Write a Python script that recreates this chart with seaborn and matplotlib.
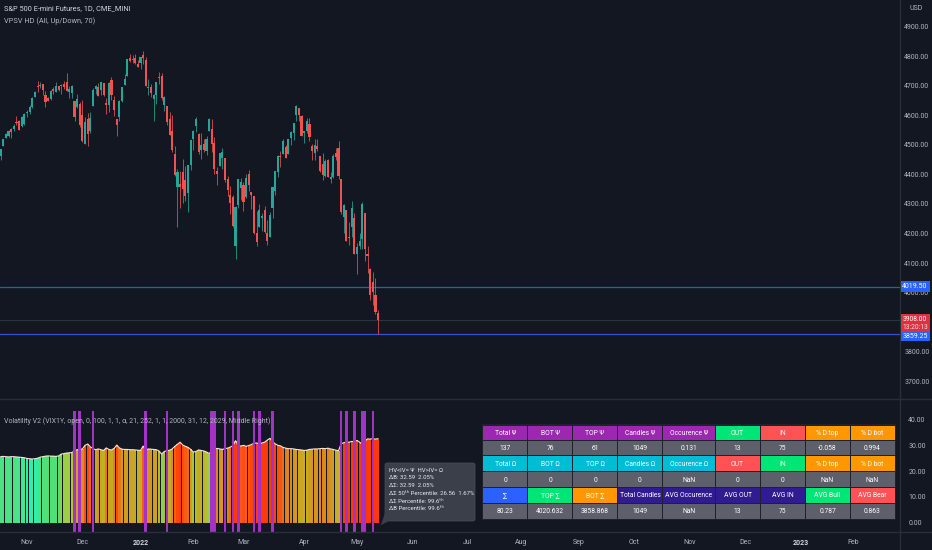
"""S&P 500 E-mini daily chart with Volatility V2 pane, TradingView dark look."""

import matplotlib
matplotlib.use("Agg")
import matplotlib.pyplot as plt
from matplotlib.colors import LinearSegmentedColormap, Normalize
from matplotlib.patches import Rectangle, Polygon, FancyBboxPatch
import numpy as np
import pandas as pd
import seaborn as sns

BG = "#131722"
TXT = "#b2b5be"
UP = "#26a69a"
DOWN = "#ef5350"
FONT = ["Roboto", "DejaVu Sans"]

# ---- price candles (ES1!, daily, Oct 18 2021 -> May 12 2022) ----
opens = [4463, 4497, 4524, 4532, 4553, 4553, 4578, 4580, 4563, 4572,
         4610, 4613, 4630, 4662, 4699, 4701, 4707, 4670, 4659, 4655, 4689, 4679, 4701, 4700, 4708, 4712, 4679, 4675, 4650, 4628, 4640,
         4602, 4504, 4589, 4548, 4631, 4690, 4697, 4687, 4710, 4642, 4637, 4719, 4652, 4587, 4594, 4650, 4703, 4733, 4795, 4788, 4795, 4775,
         4778, 4804, 4788, 4693, 4698, 4655, 4670, 4729, 4733, 4637, 4632, 4588, 4547, 4471, 4357, 4367, 4408, 4381, 4337, 4432,
         4519, 4566, 4536, 4482, 4505, 4480, 4547, 4553, 4506, 4412, 4429, 4456, 4456, 4385, 4332, 4324, 4156, 4298, 4354,
         4364, 4323, 4401, 4342, 4327, 4203, 4223, 4252, 4279, 4202, 4188, 4288, 4345, 4407, 4463, 4469, 4493, 4469, 4523, 4541, 4603, 4624, 4599,
         4540, 4547, 4572, 4495, 4474, 4495, 4463, 4437, 4395, 4450, 4385, 4390, 4473, 4490, 4385, 4255, 4278, 4187, 4223, 4253,
         4131, 4159, 4181, 4270, 4129, 4081, 4036, 3990, 3930]
highs = [4488, 4520, 4540, 4551, 4559, 4572, 4598, 4584, 4597, 4608,
         4620, 4635, 4664, 4683, 4718, 4714, 4708, 4684, 4662, 4688, 4697, 4714, 4701, 4708, 4717, 4743, 4701, 4702, 4650, 4672, 4646,
         4652, 4595, 4608, 4612, 4694, 4705, 4709, 4713, 4710, 4660, 4712, 4731, 4667, 4587, 4651, 4698, 4740, 4791, 4807, 4805, 4808, 4787,
         4797, 4818, 4798, 4725, 4708, 4673, 4714, 4749, 4745, 4666, 4632, 4612, 4602, 4495, 4418, 4411, 4453, 4429, 4432, 4517,
         4550, 4596, 4540, 4540, 4522, 4531, 4590, 4589, 4526, 4427, 4472, 4490, 4456, 4395, 4362, 4329, 4294, 4385, 4388,
         4375, 4401, 4416, 4342, 4327, 4277, 4299, 4268, 4292, 4247, 4272, 4358, 4412, 4465, 4481, 4522, 4501, 4520, 4546, 4575, 4637, 4627, 4603,
         4548, 4593, 4593, 4503, 4521, 4520, 4463, 4472, 4453, 4452, 4410, 4471, 4489, 4512, 4386, 4299, 4278, 4240, 4309, 4270,
         4169, 4200, 4307, 4270, 4157, 4082, 4068, 4050, 3940]
lows = [4448, 4496, 4524, 4526, 4524, 4546, 4569, 4551, 4562, 4568,
        4595, 4604, 4624, 4662, 4681, 4694, 4670, 4630, 4648, 4651, 4672, 4679, 4684, 4672, 4690, 4682, 4659, 4659, 4580, 4626, 4560,
        4510, 4504, 4495, 4540, 4631, 4674, 4666, 4670, 4667, 4606, 4612, 4654, 4598, 4531, 4583, 4645, 4703, 4733, 4780, 4778, 4775, 4765,
        4758, 4774, 4700, 4671, 4663, 4582, 4638, 4706, 4653, 4614, 4568, 4533, 4477, 4396, 4222, 4287, 4304, 4309, 4273, 4415,
        4484, 4544, 4469, 4451, 4476, 4465, 4547, 4477, 4401, 4364, 4429, 4417, 4373, 4327, 4267, 4221, 4114, 4287, 4315,
        4277, 4322, 4345, 4284, 4199, 4157, 4223, 4209, 4200, 4161, 4187, 4251, 4330, 4390, 4425, 4469, 4455, 4469, 4501, 4517, 4583, 4582, 4530,
        4507, 4539, 4514, 4450, 4450, 4481, 4408, 4381, 4392, 4390, 4370, 4387, 4448, 4384, 4267, 4200, 4175, 4162, 4188, 4131,
        4063, 4147, 4148, 4106, 4067, 3975, 3958, 3928, 3859]
closes = [4486, 4519, 4536, 4549, 4544, 4566, 4574, 4551, 4596, 4605,
          4613, 4630, 4660, 4680, 4697, 4701, 4685, 4646, 4649, 4682, 4682, 4700, 4688, 4704, 4697, 4682, 4690, 4701, 4595, 4655, 4567,
          4513, 4577, 4538, 4591, 4686, 4701, 4667, 4712, 4668, 4634, 4709, 4669, 4620, 4568, 4649, 4697, 4725, 4791, 4786, 4793, 4778, 4766,
          4797, 4794, 4701, 4696, 4677, 4670, 4713, 4726, 4659, 4663, 4577, 4533, 4483, 4398, 4410, 4357, 4350, 4327, 4432, 4516,
          4546, 4589, 4477, 4501, 4484, 4521, 4587, 4504, 4419, 4402, 4472, 4475, 4381, 4349, 4305, 4226, 4289, 4385, 4374,
          4306, 4387, 4364, 4329, 4201, 4171, 4278, 4260, 4204, 4173, 4263, 4358, 4412, 4463, 4461, 4512, 4457, 4520, 4543, 4575, 4632, 4603, 4530,
          4546, 4583, 4526, 4481, 4500, 4488, 4413, 4397, 4447, 4392, 4392, 4463, 4460, 4394, 4272, 4297, 4175, 4184, 4288, 4132,
          4155, 4175, 4301, 4147, 4123, 3991, 4001, 3935, 3908]

# ---- Volatility V2 pane ----
vol_values = [25.6, 25.7, 25.6, 25.5, 25.6, 25.6, 25.5, 25.4, 25.3, 25.2, 24.9, 24.8, 24.7, 24.8,
              25.0, 25.4, 25.6, 25.8, 25.9, 25.8, 25.8, 25.7, 25.9,
              26.6, 26.8, 27.0, 27.1, 27.2,
              27.9, 28.3, 28.4, 28.6,
              30.0, 30.5, 29.4, 28.7, 28.3, 28.6,
              28.3, 28.0, 29.0, 28.4, 28.2, 28.8,
              30.1, 29.0, 28.5, 28.4, 28.4, 28.3, 28.3, 28.2, 28.1, 28.0,
              29.7, 28.2, 28.6, 28.5, 28.4, 28.3, 27.8,
              26.6, 27.6, 27.9, 28.1, 28.6, 29.6, 30.4, 31.2, 30.1, 29.6, 29.2, 28.4,
              27.4, 27.6, 28.2, 28.0, 27.8, 27.4, 26.8,
              28.0, 28.6, 28.8, 28.6, 28.4, 28.7, 28.9, 29.3, 29.8,
              31.8, 30.0, 29.7, 30.0, 29.6, 29.9, 30.3, 30.8, 30.9, 30.5, 30.9, 31.2, 32.0, 32.7, 31.4, 30.6, 30.0, 29.8, 29.2,
              28.9, 28.7, 28.7, 28.6, 28.4, 28.3, 28.2, 28.0, 28.1, 28.4, 28.5, 28.6, 28.6, 28.7, 28.8, 28.7, 28.9, 28.6, 28.4, 28.1, 27.9,
              30.6, 31.0, 31.3, 31.2, 31.5, 31.4, 31.9, 31.2, 30.3, 31.6, 32.5, 32.4, 32.6, 32.4, 32.59]
signal_bars = [28, 30, 35, 55, 63, 80, 81, 85, 88, 90, 96, 98, 103, 129, 131, 134, 137, 138, 141]

month_ticks = [10, 31, 53, 73, 92, 115, 135, 156, 177, 197, 219, 240, 261, 282, 303, 323]
month_labels = ["Nov", "Dec", "2022", "Feb", "Mar", "Apr", "May", "Jun", "Jul",
                "Aug", "Sep", "Oct", "Nov", "Dec", "2023", "Feb"]
# 3900 sits under the last-price label on the reference, so it is not shown
price_ticks = [3700, 3800, 4000, 4100, 4200, 4300, 4400, 4500, 4600, 4700, 4800, 4900]
vol_ticks = [0, 10, 20, 30, 40]

level_top = 4019.50
level_bot = 3859.25
last_price = 3908.00
last_time = "13:20:13"

# ---- statistics table ----
head1 = ["Total Ψ", "BOT Ψ", "TOP Ψ", "Candles Ψ", "Occurence Ψ", "OUT", "IN", "% D top", "% D bot"]
vals1 = ["137", "76", "61", "1049", "0.131", "13", "75", "-0.058", "0.994"]
head2 = ["Total Ω", "BOT Ω", "TOP Ω", "Candles Ω", "Occurence Ω", "OUT", "IN", "% D top", "% D bot"]
vals2 = ["0", "0", "0", "0", "NaN", "0", "0", "NaN", "NaN"]
head3 = ["∑", "TOP ∑", "BOT ∑", "Total Candles", "AVG Occurence", "AVG OUT", "AVG IN", "AVG Bull", "AVG Bear"]
vals3 = ["80.23", "4020.632", "3858.868", "1049", "NaN", "13", "75", "0.787", "0.863"]

info_lines = ["HV<IV= Ψ  HV>IV= Ω",
              "ΔB: 32.59  2.05%",
              "ΔΣ: 32.59  2.05%",
              "ΔΣ 50ᵗʰ Percentile: 26.56  1.67%",
              "ΔΣ Percentile: 99.6ᵗʰ",
              "ΔB Percentile: 99.6ᵗʰ"]

PURPLE, GREEN, RED, ORANGE = "#9c27b0", "#00e676", "#ff5252", "#ff9800"
CYAN, BLUE, INDIGO, GRAY = "#00bcd4", "#2962ff", "#311b92", "#5d606b"
head_colors = [
    [PURPLE] * 5 + [GREEN, RED, ORANGE, ORANGE],
    [CYAN] * 5 + [RED, GREEN, ORANGE, ORANGE],
    [BLUE, GREEN, ORANGE, INDIGO, INDIGO, INDIGO, INDIGO, GREEN, RED],
]

sns.set_theme(style="dark", rc={"axes.facecolor": BG, "figure.facecolor": BG})
plt.rcParams["font.family"] = FONT

W, H = 932, 550
fig = plt.figure(figsize=(W / 100, H / 100), dpi=100)
ax = fig.add_axes([0, 151 / H, 900 / W, 399 / H])
axv = fig.add_axes([0, 18 / H, 900 / W, 133 / H])

df = pd.DataFrame({"open": opens, "high": highs, "low": lows, "close": closes})
df["bar"] = np.arange(len(df))
colors = np.where(df["close"] >= df["open"], UP, DOWN)

# price pane
ax.vlines(df["bar"], df["low"], df["high"], color=colors, lw=0.55, zorder=2)
body = np.maximum((df["close"] - df["open"]).abs(), 2.5)
ax.bar(df["bar"], body, bottom=np.minimum(df["open"], df["close"]),
       width=0.8, color=colors, linewidth=0, zorder=3)
for lvl in (level_top, level_bot):
    ax.axhline(lvl, color="#3a4fd0", lw=0.9, zorder=1)
ax.axhline(last_price, color="#2e323d", lw=0.8, zorder=1)
ax.set_xlim(-0.23, 340.7)
ax.set_ylim(3639, 4991.5)
ax.yaxis.tick_right()
ax.set_yticks(price_ticks)
ax.set_yticklabels([f"{p:.2f}" for p in price_ticks])
ax.set_xticks([])
ax.tick_params(axis="y", colors=TXT, labelsize=5, length=0, pad=3)
ax.grid(False)

# volatility pane
vol = pd.DataFrame({"bar": np.arange(len(vol_values)), "value": vol_values})
cmap = LinearSegmentedColormap.from_list(
    "vol", [(0.0, "#2cf0b4"), (0.2, "#4fe07a"), (0.4, "#a6cc3a"),
            (0.58, "#c9a623"), (0.72, "#ec6e16"), (0.86, "#ff4a10"), (1.0, "#ff3a08")])
norm = Normalize(24.5, 31.0)
vol_palette = [cmap(norm(v)) for v in vol["value"]]
sns.barplot(data=vol, x="bar", y="value", hue="bar", palette=vol_palette, legend=False,
            width=0.84, saturation=1, linewidth=0, native_scale=True, ax=axv, zorder=2)
sns.lineplot(data=vol, x="bar", y="value", color="#f7e4da", lw=0.8, ax=axv, zorder=3)
axv.bar(signal_bars, 43.3 + 3.6, bottom=-3.6, width=1.0, color="#a333c6",
        linewidth=0, zorder=4)
axv.set_xlim(-0.23, 340.7)
axv.set_ylim(-3.6, 47.95)
axv.yaxis.tick_right()
axv.set_yticks(vol_ticks)
axv.set_yticklabels([f"{v:.2f}" for v in vol_ticks])
axv.set_xticks(month_ticks)
axv.set_xticklabels(month_labels)
axv.set_xlabel("")
axv.set_ylabel("")
axv.tick_params(axis="y", colors=TXT, labelsize=5, length=0, pad=6)
axv.tick_params(axis="x", colors=TXT, labelsize=5, length=0, pad=5)
for lab in axv.get_xticklabels():
    if lab.get_text().isdigit():
        lab.set_fontweight("bold")
        lab.set_color("#d1d4dc")
axv.grid(False)

for a in (ax, axv):
    for s in a.spines.values():
        s.set_visible(False)

# overlay in pixel coordinates for labels, table and separators
ov = fig.add_axes([0, 0, 1, 1])
ov.set_xlim(0, W)
ov.set_ylim(H, 0)
ov.axis("off")
ov.set_zorder(5)

ov.plot([0, W], [399, 399], color="#2a2e39", lw=1)
ov.plot([0, W], [532, 532], color="#2a2e39", lw=1)
ov.plot([900, 900], [0, H], color="#2a2e39", lw=1)

ov.text(4, 9, "S&P 500 E-mini Futures, 1D, CME_MINI", color="#d1d4dc", fontsize=5.3, va="center")
ov.text(4, 21, "VPSV HD (All, Up/Down, 70)", color=TXT, fontsize=5.3, va="center")
ov.text(4, 421, "Volatility V2 (VIX1Y, open, 0, 100, 1, 1, α, 21, 252, 1, 1, 2000, 31, 12, 2029, Middle Right)",
        color=TXT, fontsize=5.0, va="center")
ov.text(916, 8, "USD", color=TXT, fontsize=5, ha="center", va="center")


def price_to_px(p):
    return H - ax.transData.transform((0, p))[1]


def scale_label(y, text, color, h=11):
    ov.add_patch(Rectangle((900.5, y - h / 2), 29, h, color=color, lw=0, zorder=6))
    ov.text(915, y, text, color="white", fontsize=5, ha="center", va="center", zorder=7)


scale_label(price_to_px(level_top), f"{level_top:.2f}", "#2962ff")
y_last = price_to_px(last_price)
ov.add_patch(Rectangle((900.5, y_last - 6), 29, 18.5, color="#f23645", alpha=0.9, lw=0, zorder=6))
ov.text(915, y_last - 0.5, f"{last_price:.2f}", color="white", fontsize=4.8, ha="center", va="center", zorder=7)
ov.text(915, y_last + 8, last_time, color="#ffd9dc", fontsize=4.8, ha="center", va="center", zorder=7)
scale_label(price_to_px(level_bot) + 2.5, f"{level_bot:.2f}", "#2962ff", h=9.5)

# table
col_x = [482.7, 527.7, 572.7, 617.3, 662.7, 715, 760, 805, 850, 895]
row_y = [425, 440.7, 455.7, 471.7, 487.7, 503.3, 519]
rows = [(head1, head_colors[0]), (vals1, [GRAY] * 9),
        (head2, head_colors[1]), (vals2, [GRAY] * 9),
        (head3, head_colors[2]), (vals3, [GRAY] * 9)]
ov.add_patch(Rectangle((col_x[0] - 1, row_y[0] - 1), col_x[-1] - col_x[0] + 2,
                       row_y[-1] - row_y[0] + 2, color="#1e222d", lw=0, zorder=6))
for r, (texts, cols) in enumerate(rows):
    for c, (t, fc) in enumerate(zip(texts, cols)):
        x0, x1 = col_x[c], col_x[c + 1]
        y0, y1 = row_y[r], row_y[r + 1]
        ov.add_patch(Rectangle((x0 + 0.5, y0 + 0.5), x1 - x0 - 1, y1 - y0 - 1,
                               color=fc, lw=0, zorder=7))
        ov.text((x0 + x1) / 2, (y0 + y1) / 2 + 0.3, t, color="white", fontsize=4.9,
                ha="center", va="center", zorder=8)

# info label
ov.add_patch(FancyBboxPatch((385, 463), 90, 58, boxstyle="round,pad=0,rounding_size=2",
                            fc="#3b3f4a", ec="#4a4e59", lw=0.5, zorder=6))
ov.add_patch(Polygon([(386, 510), (389, 521), (381, 525)], closed=True,
                     fc="#3b3f4a", ec="none", zorder=6))
for i, line in enumerate(info_lines):
    ov.text(389, 470 + i * 7.8, line, color="#e8eaef", fontsize=4.3, va="center", zorder=7)

fig.savefig("out.png", dpi=100, facecolor=BG)
